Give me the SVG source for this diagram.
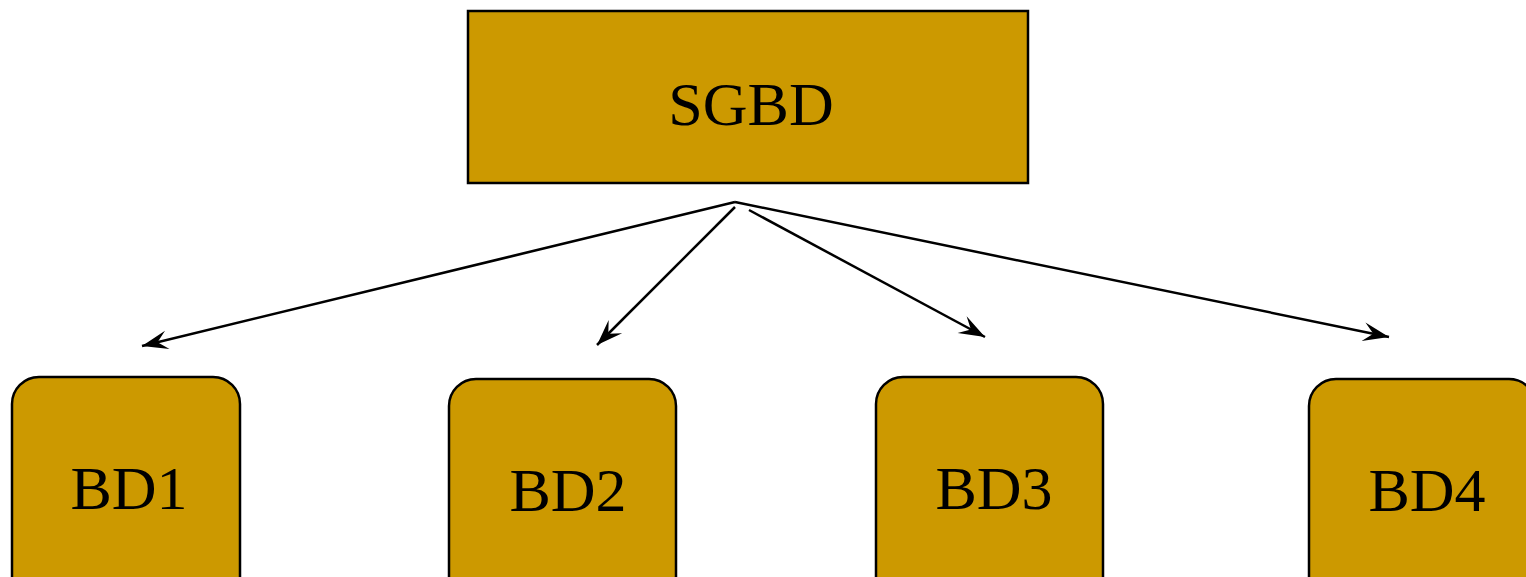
<svg xmlns="http://www.w3.org/2000/svg" width="1526" height="577" viewBox="0 0 1526 577">
  <style>
    .box { fill: #CC9900; stroke: #000; stroke-width: 2.5; }
    .lbl { font-family: "Liberation Serif", "Times New Roman", serif; font-size: 62px; fill: #000; text-anchor: middle; }
    .edge { stroke: #000; stroke-width: 2.5; fill: none; marker-end: url(#head); }
  </style>
  <defs>
    <marker id="head" markerUnits="userSpaceOnUse" viewBox="-28 -11 30 22" refX="0" refY="0" markerWidth="30" markerHeight="22" orient="auto">
      <path d="M0,0 L-26,-9.5 L-16,0 L-26,9.5 Z" fill="#000"/>
    </marker>
  </defs>

  <g id="sgbd">
    <rect class="box" x="468" y="11" width="560" height="172"/>
    <text class="lbl" x="751" y="125">SGBD</text>
  </g>

  <g id="bd1">
    <rect class="box" x="12" y="377" width="228" height="230" rx="27" ry="27"/>
    <text class="lbl" x="129" y="509">BD1</text>
  </g>

  <g id="bd2">
    <rect class="box" x="449" y="379" width="227" height="230" rx="27" ry="27"/>
    <text class="lbl" x="568" y="511">BD2</text>
  </g>

  <g id="bd3">
    <rect class="box" x="876" y="377" width="227" height="230" rx="27" ry="27"/>
    <text class="lbl" x="994" y="509">BD3</text>
  </g>

  <g id="bd4">
    <rect class="box" x="1309" y="379" width="227" height="230" rx="27" ry="27"/>
    <text class="lbl" x="1427" y="511">BD4</text>
  </g>

  <g id="connectors">
    <line class="edge" x1="735" y1="202" x2="142" y2="346"/>
    <line class="edge" x1="735" y1="207" x2="597" y2="345"/>
    <line class="edge" x1="749" y1="210" x2="985" y2="337"/>
    <line class="edge" x1="735" y1="202" x2="1389" y2="337"/>
  </g>
</svg>
